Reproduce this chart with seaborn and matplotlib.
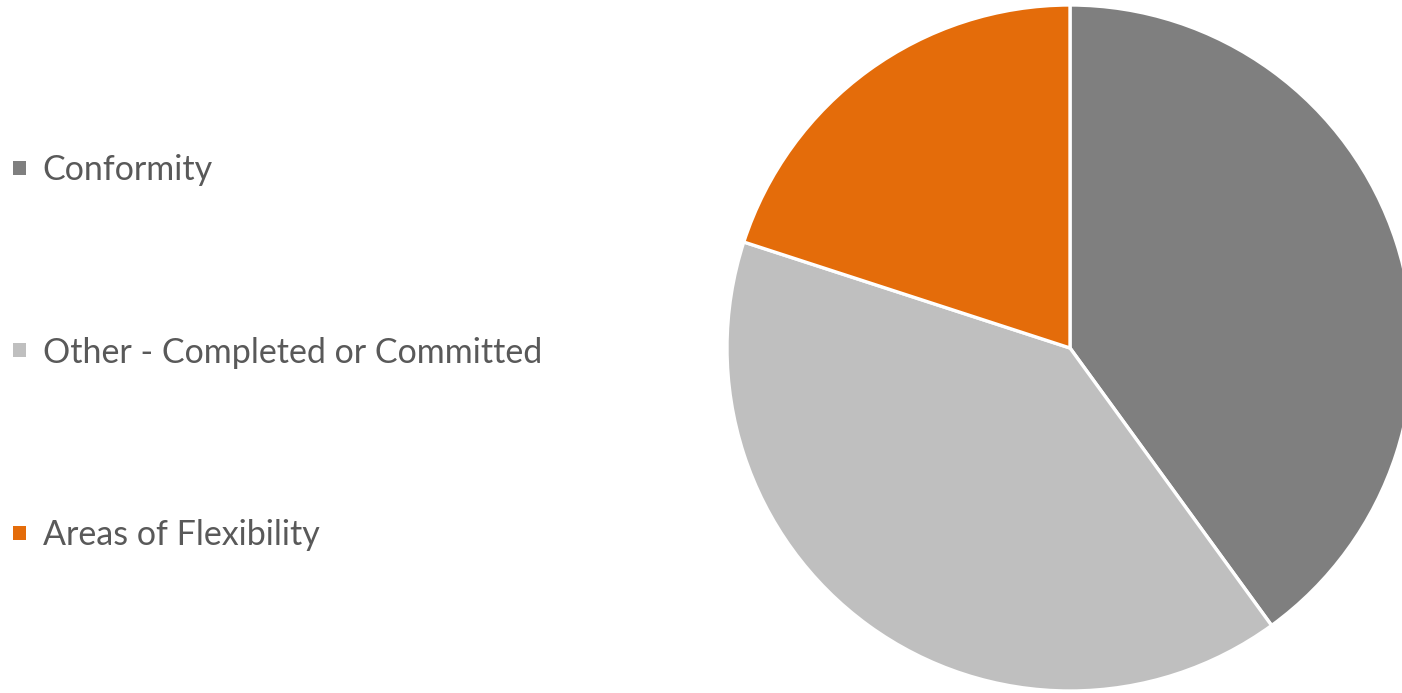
import matplotlib
matplotlib.use("Agg")
import matplotlib.pyplot as plt
import matplotlib.patches as mpatches
import seaborn as sns

categories = ["Conformity", "Other - Completed or Committed", "Areas of Flexibility"]
values = [40, 40, 20]
colors = ["#7F7F7F", "#BFBFBF", "#E46C0A"]

sns.set_theme(style="white")
plt.rcParams["font.family"] = ["Lato", "DejaVu Sans"]

W, H = 1402, 693
fig = plt.figure(figsize=(W / 100, H / 100), dpi=100)
ax = fig.add_axes([0, 0, 1, 1])
ax.set_xlim(0, W)
ax.set_ylim(0, H)
ax.set_aspect("equal")
ax.axis("off")

wedges, _ = ax.pie(values, colors=colors, startangle=90, counterclock=False,
                   center=(1070, H - 348), radius=343,
                   wedgeprops=dict(edgecolor="white", linewidth=2.4))
ax.set_xlim(0, W)
ax.set_ylim(0, H)

handles = [mpatches.Patch(facecolor=c, edgecolor="none") for c in colors]
leg = ax.legend(handles, categories, loc="center left", bbox_to_anchor=(0.0, 0.491),
                frameon=False, fontsize=24.5, labelcolor="#595959",
                handlelength=0.37, handleheight=0.26, handletextpad=0.5,
                labelspacing=4.42, borderaxespad=0.0, borderpad=0.38)

fig.savefig("out.png", dpi=100, facecolor="white")
